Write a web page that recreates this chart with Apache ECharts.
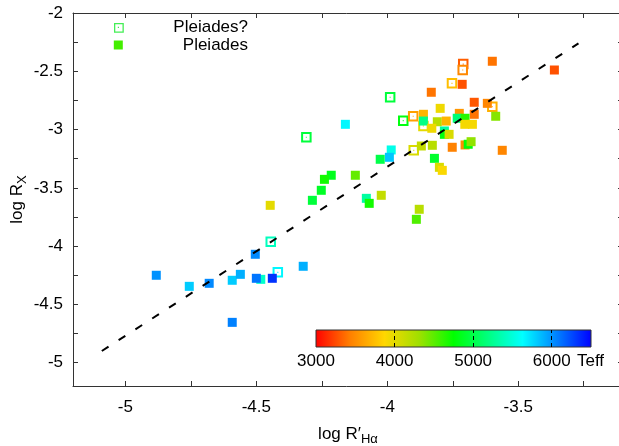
<!DOCTYPE html>
<html><head><meta charset="utf-8">
<script src="https://cdn.jsdelivr.net/npm/echarts@6/dist/echarts.min.js"></script>
<style>html,body{margin:0;padding:0;background:#fff}#c{width:619px;height:446px}</style>
</head><body><div id="c"></div>
<script>
// ---- axis ticks / labels ----
const xTickValues = [-5, -4.75, -4.5, -4.25, -4, -3.75, -3.5, -3.25];
const xLabelValues = [-5, -4.5, -4, -3.5];
const yTickValues = [-5, -4.75, -4.5, -4.25, -4, -3.75, -3.5, -3.25, -3, -2.75, -2.5, -2.25];
const yLabelValues = [-5, -4.5, -4, -3.5, -3, -2.5, -2];
const cbTickValues = [4000, 5000, 6000];
const cbLabelValues = [3000, 4000, 5000, 6000];
const cbRange = [3000, 6500];
const palette = ['#ff0000', '#ff7f00', '#ffd700', '#a0e000', '#00ff00', '#00ff80', '#00ffff', '#0080ff', '#0000ff'];

// ---- Pleiades? (open squares) ----
const qX = [-4.309, -3.989, -3.939, -3.710, -3.712, -3.753, -3.599, -3.901, -3.862, -3.899, -4.445, -4.418];
const qY = [-3.066, -2.723, -2.924, -2.438, -2.489, -2.603, -2.804, -2.886, -2.969, -3.178, -3.962, -4.225];
const qT = [4950, 4950, 4800, 3320, 3480, 3750, 3680, 3600, 4000, 4050, 5400, 5650];

// ---- Pleiades (filled squares) ----
const pX = [-4.160, -3.832, -3.714, -3.599, -3.668, -3.618, -3.586, -3.668, -3.725, -3.798,
            -3.862, -3.862, -3.809, -3.775, -3.830, -3.733, -3.703, -3.704, -3.675, -3.782,
            -3.782, -3.764, -3.985, -3.992, -4.027, -3.870, -3.828, -3.752, -3.703, -3.691,
            -3.680, -3.561, -3.820, -3.801, -3.790, -4.023, -3.878, -3.889, -4.214, -4.240,
            -4.122, -4.252, -4.286, -4.447, -4.080, -4.069, -4.882, -4.756, -4.680, -4.592,
            -4.561, -4.504, -4.483, -4.500, -4.439, -4.321, -4.592, -3.362];
const pY = [-2.955, -2.680, -2.612, -2.414, -2.766, -2.775, -2.886, -2.869, -2.861, -2.818,
            -2.869, -2.927, -2.933, -2.927, -2.989, -2.903, -2.903, -2.955, -2.955, -3.012,
            -3.041, -3.041, -3.175, -3.238, -3.255, -3.141, -3.135, -3.152, -3.132, -3.126,
            -3.104, -3.178, -3.247, -3.324, -3.350, -3.564, -3.684, -3.770, -3.392, -3.427,
            -3.392, -3.521, -3.607, -3.650, -3.590, -3.633, -4.250, -4.345, -4.319, -4.293,
            -4.242, -4.070, -4.285, -4.276, -4.276, -4.173, -4.654, -2.489];
const pT = [5650, 3400, 3280, 3400, 3300, 3470, 4380, 3400, 3550, 3950,
            3700, 5200, 4200, 3700, 3950, 5150, 4650, 3920, 3920, 5300,
            4800, 4050, 5550, 5820, 5000, 4150, 4200, 3450, 3500, 4780,
            4350, 3470, 4900, 4050, 3900, 4150, 4200, 4530, 4850, 4700,
            4480, 4880, 4950, 4000, 5300, 4700, 6000, 5800, 6030, 5800,
            5900, 6030, 5450, 6100, 6330, 5900, 6060, 3280];

// ---- dashed fit line ----
const fitX = [-5.09, -3.27];
const fitY = [-4.90, -2.26];

const FONT = 'Liberation Sans, Arial, Helvetica, sans-serif';
const qData = qX.map((x, i) => [x, qY[i], qT[i]]);
const pData = pX.map((x, i) => [x, pY[i], pT[i]]);
const fitData = fitX.map((x, i) => [x, fitY[i]]);
const stops = palette.map((c, i) => ({offset: i / (palette.length - 1), color: c}));

const frameLine = {show: true, lineStyle: {color: '#333', width: 1}};
const tickStyle = {color: '#333', width: 1};
const nameRich = {
  n: {fontSize: 17, color: '#000', fontFamily: FONT},
  s: {fontSize: 13, color: '#000', fontFamily: FONT, padding: [10, 0, 0, 0]}
};

const chart = echarts.init(document.getElementById('c'), null, {renderer: 'canvas'});
chart.setOption({
  animation: false,
  backgroundColor: '#fff',
  grid: [
    {left: 73, top: 13, width: 550, height: 373, outerBoundsMode: 'none', containLabel: false},
    {left: 316, top: 330, width: 275, height: 17, outerBoundsMode: 'none', containLabel: false}
  ],
  xAxis: [
    {type: 'value', gridIndex: 0, position: 'bottom', min: -5.2, max: -3.1,
     axisLine: frameLine, splitLine: {show: false},
     axisTick: {inside: true, length: 5, lineStyle: tickStyle, customValues: xTickValues},
     axisLabel: {customValues: xLabelValues, fontSize: 17, color: '#000', fontFamily: FONT, margin: 13},
     name: '{n|log R′}{s|Hα}', nameLocation: 'middle', nameGap: 37, nameMoveOverlap: false,
     nameTextStyle: {rich: nameRich}},
    {type: 'value', gridIndex: 0, position: 'top', min: -5.2, max: -3.1,
     axisLine: frameLine, splitLine: {show: false},
     axisTick: {inside: true, length: 5, lineStyle: tickStyle, customValues: xTickValues},
     axisLabel: {show: false}},
    {type: 'value', gridIndex: 1, position: 'bottom', min: cbRange[0], max: cbRange[1], z: 10,
     axisLine: {show: false}, splitLine: {show: false},
     axisTick: {inside: true, length: 17, lineStyle: {color: '#000', width: 1, type: [4, 3]}, customValues: cbTickValues},
     axisLabel: {customValues: cbLabelValues, fontSize: 17, color: '#000', fontFamily: FONT, margin: 6,
                 formatter: v => String(v)},
     name: 'Teff', nameLocation: 'end', nameGap: -14, nameMoveOverlap: false,
     nameTextStyle: {fontSize: 17, color: '#000', fontFamily: FONT, verticalAlign: 'top', padding: [6, 0, 0, 0]}}
  ],
  yAxis: [
    {type: 'value', gridIndex: 0, position: 'left', min: -5.2, max: -2,
     axisLine: frameLine, splitLine: {show: false},
     axisTick: {inside: true, length: 5, lineStyle: tickStyle, customValues: yTickValues},
     axisLabel: {customValues: yLabelValues, fontSize: 17, color: '#000', fontFamily: FONT, margin: 10},
     name: '{n|log R}{s|X}', nameLocation: 'middle', nameGap: 44, nameMoveOverlap: false,
     nameTextStyle: {rich: nameRich}},
    {type: 'value', gridIndex: 0, position: 'right', min: -5.2, max: -2,
     axisLine: frameLine, splitLine: {show: false},
     axisTick: {inside: true, length: 5, lineStyle: tickStyle, customValues: yTickValues},
     axisLabel: {show: false}},
    {type: 'value', gridIndex: 1, min: 0, max: 1, show: false}
  ],
  visualMap: {
    type: 'continuous', show: false, min: cbRange[0], max: cbRange[1], dimension: 2,
    seriesIndex: [0, 1, 2], inRange: {color: palette}
  },
  series: [
    {type: 'scatter', name: 'Pleiades?', xAxisIndex: 0, yAxisIndex: 0, data: qData,
     symbol: 'emptyRect', symbolSize: 8.5, itemStyle: {borderWidth: 1.3, opacity: 1}, z: 3},
    {type: 'scatter', name: 'Pleiades? dot', xAxisIndex: 0, yAxisIndex: 0, data: qData,
     symbol: 'rect', symbolSize: 1.2, itemStyle: {opacity: 0.8}, z: 3},
    {type: 'scatter', name: 'Pleiades', xAxisIndex: 0, yAxisIndex: 0, data: pData,
     symbol: 'rect', symbolSize: 9, itemStyle: {opacity: 1}, z: 4},
    {type: 'line', name: 'fit', xAxisIndex: 0, yAxisIndex: 0, data: fitData, symbol: 'none',
     lineStyle: {color: '#000', width: 2, type: [8, 12]}, z: 6, silent: true},
    {type: 'custom', name: 'colorbar', xAxisIndex: 2, yAxisIndex: 2, data: [[cbRange[0], cbRange[1]]],
     encode: {x: [0, 1]}, z: 2, silent: true,
     renderItem: function (params, api) {
       const p0 = api.coord([api.value(0), 1]);
       const p1 = api.coord([api.value(1), 0]);
       return {type: 'rect',
         shape: {x: p0[0], y: p0[1], width: p1[0] - p0[0], height: p1[1] - p0[1]},
         style: {fill: new echarts.graphic.LinearGradient(0, 0, 1, 0, stops), stroke: '#333', lineWidth: 1}};
     }}
  ],
  graphic: [
    {type: 'rect', left: 114, top: 23, shape: {width: 8.5, height: 8.5},
     style: {fill: '#fff', stroke: '#44ee55', lineWidth: 1.3}, z: 20},
    {type: 'rect', left: 117.8, top: 26.8, shape: {width: 1.2, height: 1.2}, style: {fill: '#44ee55'}, z: 21},
    {type: 'rect', left: 113.8, top: 40.5, shape: {width: 9, height: 9}, style: {fill: '#44ee00'}, z: 20},
    {type: 'text', x: 248, y: 27, z: 20,
     style: {text: 'Pleiades?', font: '17px ' + FONT, fill: '#000', textAlign: 'right', textVerticalAlign: 'middle'}},
    {type: 'text', x: 248, y: 45, z: 20,
     style: {text: 'Pleiades', font: '17px ' + FONT, fill: '#000', textAlign: 'right', textVerticalAlign: 'middle'}}
  ]
});
</script></body></html>
